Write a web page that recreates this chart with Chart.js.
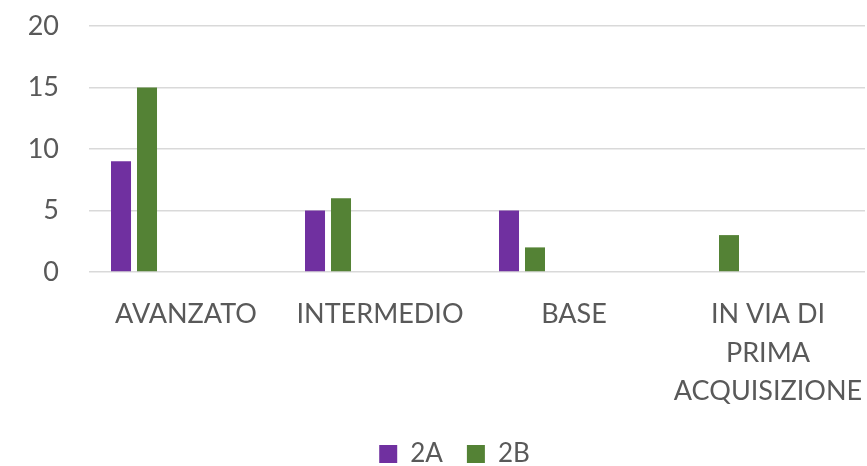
<!DOCTYPE html>
<html>
<head>
<meta charset="UTF-8">
<script src="https://cdn.jsdelivr.net/npm/chart.js"></script>
<title>Livelli 2A 2B</title>
<style>
  body { margin: 0; background: #fff; }
</style>
</head>
<body>
<div>
  <canvas id="myChart" width="867" height="466"></canvas>
</div>

<script>
  const categories = ['AVANZATO', 'INTERMEDIO', 'BASE', ['IN VIA DI', 'PRIMA', 'ACQUISIZIONE']];
  const values2A = [9, 5, 5, null];
  const values2B = [15, 6, 2, 3];
  // the original sheet has 4 more (empty) series, that's why the bars sit on the left
  const emptySeries = [null, null, null, null];
  const yTicks = [0, 5, 10, 15, 20];

  const textColor = '#595959';
  const font = { family: 'Lato', size: 27 };

  const datasets = [
    { label: '2A', data: values2A, backgroundColor: '#7030A0' },
    { label: '2B', data: values2B, backgroundColor: '#548235' }
  ];
  for (let i = 0; i < 4; i++) {
    datasets.push({ label: '', data: emptySeries, backgroundColor: '#fff' });
  }

  // legend in the original is a bit right of the centre
  const legendShift = {
    id: 'legendShift',
    afterLayout(chart) {
      chart.legend.left += 22;
      chart.legend.right += 22;
    }
  };

  const ctx = document.getElementById('myChart');
  new Chart(ctx, {
    type: 'bar',
    data: { labels: categories, datasets: datasets },
    plugins: [legendShift],
    options: {
      responsive: false,
      animation: false,
      layout: { padding: { top: 26, right: 2, left: 0, bottom: -11 } },
      datasets: { bar: { categoryPercentage: 0.804, barPercentage: 0.77 } },
      plugins: {
        tooltip: { enabled: false },
        legend: {
          position: 'bottom',
          labels: {
            boxWidth: 18, boxHeight: 18, padding: 24,
            color: textColor, font: { family: 'Lato', size: 26 },
            filter: item => item.text !== ''
          }
        }
      },
      scales: {
        x: {
          grid: { display: false },
          border: { display: false },
          ticks: { color: textColor, font: { family: 'Lato', size: 27, lineHeight: 1.43 }, padding: 15, maxRotation: 0, autoSkip: false },
          afterFit: s => { s.height = 145; s.paddingLeft = 0; s.paddingRight = 0; }
        },
        y: {
          min: 0, max: 20,
          afterBuildTicks: s => { s.ticks = yTicks.map(v => ({ value: v })); },
          grid: { color: '#D9D9D9', lineWidth: 1.5, drawTicks: false },
          border: { display: false },
          ticks: { color: textColor, font: font, padding: 30 },
          afterFit: s => { s.width = 89; s.paddingTop = 0; s.paddingBottom = 0; }
        }
      }
    }
  });
</script>

</body>
</html>
